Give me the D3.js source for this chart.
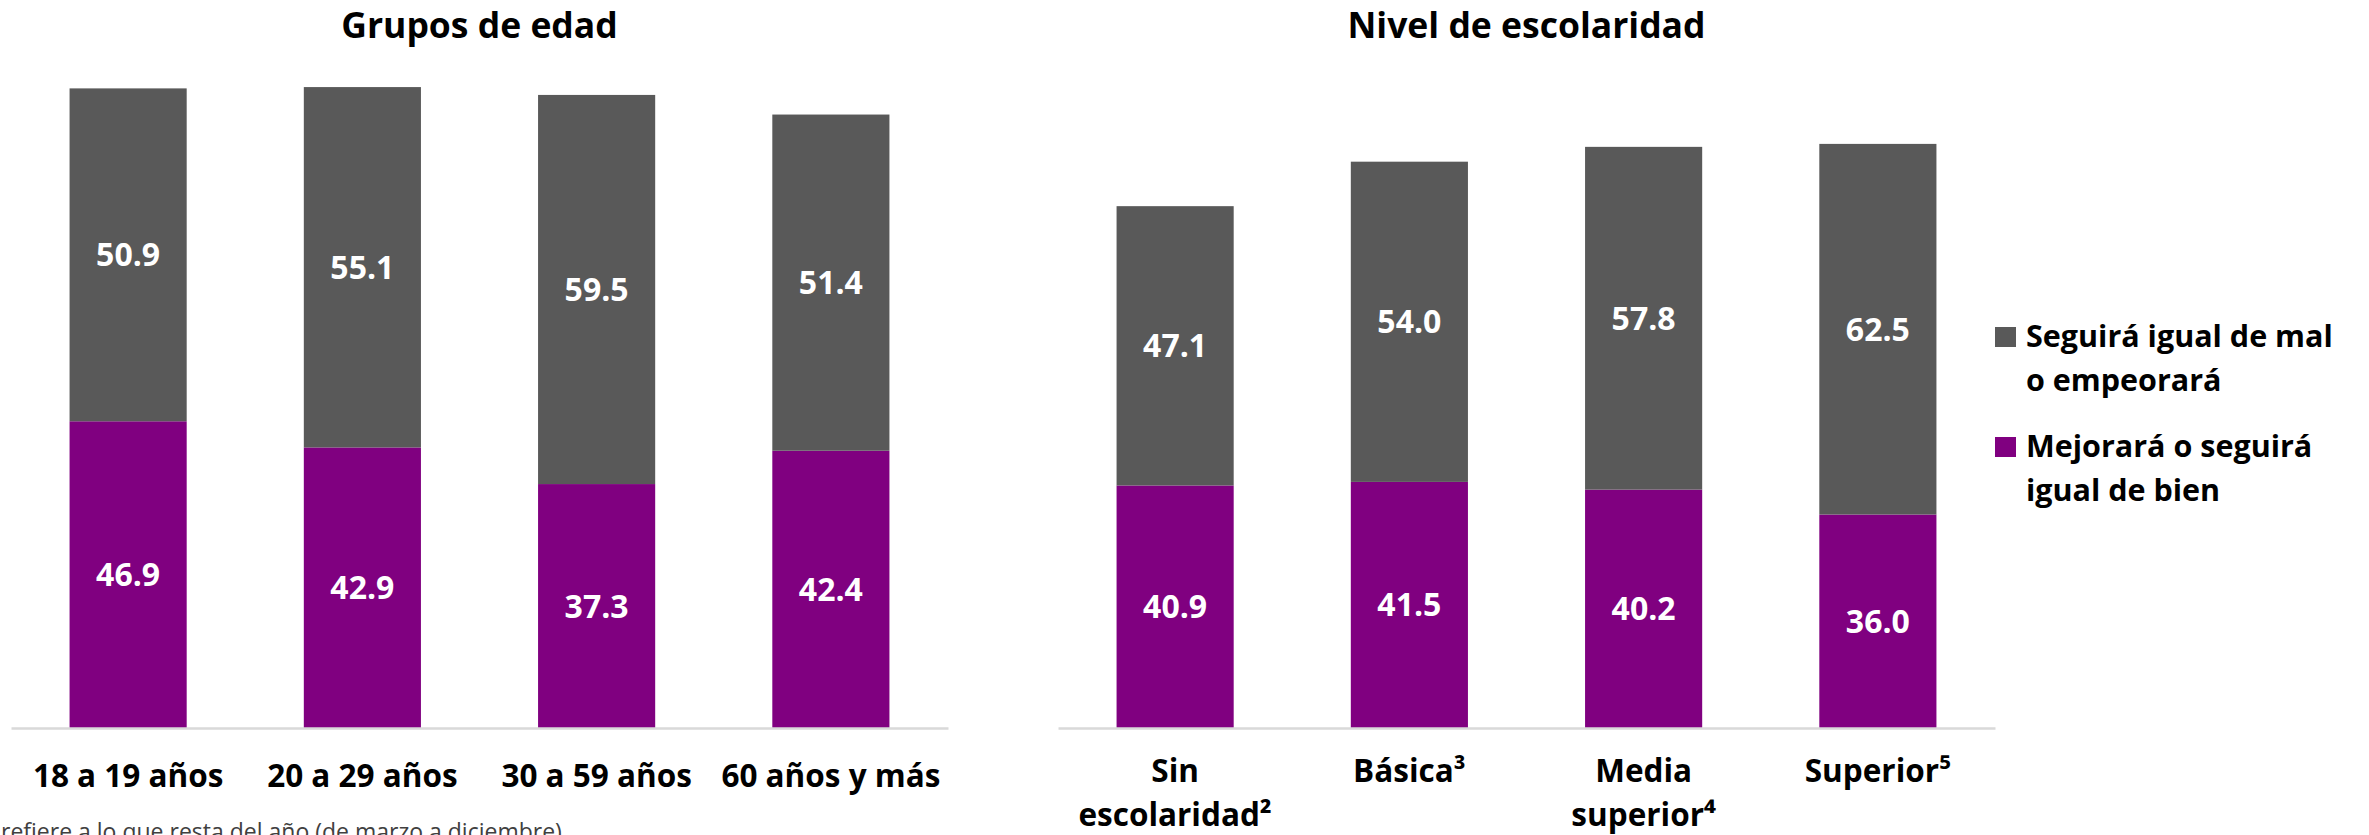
<!DOCTYPE html>
<html>
<head>
<meta charset="utf-8">
<script src="https://cdn.jsdelivr.net/npm/d3@7"></script>
<style>
  body { margin: 0; background: #fff; }
  svg { display: block; font-family: "Open Sans", sans-serif; }
</style>
</head>
<body>
<svg id="chart" width="2369" height="835"></svg>
<script>
// data
const gruposEdad = ["18 a 19 años", "20 a 29 años", "30 a 59 años", "60 años y más"];
const edadMal = [50.9, 55.1, 59.5, 51.4];
const edadBien = [46.9, 42.9, 37.3, 42.4];

const nivelEsc = ["Sin escolaridad²", "Básica³", "Media superior⁴", "Superior⁵"];
const nivelEscLineas = [["Sin", "escolaridad²"], ["Básica³"], ["Media", "superior⁴"], ["Superior⁵"]];
const escMal = [47.1, 54.0, 57.8, 62.5];
const escBien = [40.9, 41.5, 40.2, 36.0];

const serieNombres = ["Seguirá igual de mal o empeorará", "Mejorará o seguirá igual de bien"];
const serieLineas = [["Seguirá igual de mal", "o empeorará"], ["Mejorará o seguirá", "igual de bien"]];
const colores = { mal: "#595959", bien: "#800080" };

const nota = "refiere a lo que resta del año (de marzo a diciembre)";

const svg = d3.select("#chart");
const baseY = 728;

function panel(opts) {
    const rows = opts.cats.map((c, i) => ({ cat: c, bien: opts.bien[i], mal: opts.mal[i] }));
    const stack = d3.stack().keys(["bien", "mal"])(rows);

    const x = d3.scaleBand()
        .domain(opts.cats)
        .range([opts.x0, opts.x1])
        .paddingInner(0.5)
        .paddingOuter(0.25);
    const y = d3.scaleLinear().domain([0, 100]).range([baseY, opts.yTop]);

    const g = svg.append("g");

    // title
    g.append("text")
        .attr("x", (opts.x0 + opts.x1) / 2)
        .attr("y", 38)
        .attr("text-anchor", "middle")
        .style("font-size", "35.5px")
        .style("font-weight", 700)
        .attr("fill", "#000")
        .text(opts.title);

    const layer = g.selectAll(".serie").data(stack).join("g")
        .attr("class", "serie")
        .attr("fill", d => colores[d.key]);

    layer.selectAll("rect").data(d => d).join("rect")
        .attr("x", d => x(d.data.cat))
        .attr("y", d => y(d[1]))
        .attr("width", x.bandwidth())
        .attr("height", d => y(d[0]) - y(d[1]));

    // value labels
    layer.selectAll("text").data(d => d.map(v => ({ v: v, key: d.key }))).join("text")
        .attr("x", d => x(d.v.data.cat) + x.bandwidth() / 2)
        .attr("y", d => (y(d.v[0]) + y(d.v[1])) / 2)
        .attr("dy", "0.36em")
        .attr("text-anchor", "middle")
        .attr("fill", "#fff")
        .style("font-size", "32px")
        .style("font-weight", 700)
        .text(d => d.v.data[d.key].toFixed(1));

    // axis
    const axis = g.append("g")
        .attr("transform", `translate(0,${baseY})`)
        .call(d3.axisBottom(x).tickSize(0).tickSizeOuter(0));
    axis.select(".domain").attr("stroke", "#d9d9d9").attr("stroke-width", 2.5);
    axis.selectAll(".tick text").each(function (d, i) {
        const t = d3.select(this)
            .attr("y", null).attr("dy", null)
            .attr("fill", "#000")
            .style("font-size", "31.5px")
            .style("font-weight", 700)
            .style("font-family", "'Open Sans', sans-serif")
            .text(null);
        opts.lineas[i].forEach((ln, j) => {
            t.append("tspan")
                .attr("x", 0)
                .attr("y", opts.labelY + j * 44)
                .text(ln);
        });
    });
}

panel({
    title: "Grupos de edad", cats: gruposEdad, lineas: gruposEdad.map(d => [d]),
    bien: edadBien, mal: edadMal, x0: 11, x1: 948, yTop: 74, labelY: 59
});
panel({
    title: "Nivel de escolaridad", cats: nivelEsc, lineas: nivelEscLineas,
    bien: escBien, mal: escMal, x0: 1058, x1: 1995, yTop: 135, labelY: 54
});

// legend
const leg = svg.append("g").attr("transform", "translate(1995,327)");
const legItems = leg.selectAll("g").data(["mal", "bien"]).join("g")
    .attr("transform", (d, i) => `translate(0,${i * 110})`);
legItems.append("rect")
    .attr("width", 21).attr("height", 20)
    .attr("fill", d => colores[d]);
legItems.append("text")
    .style("font-size", "30.5px")
    .style("font-weight", 700)
    .attr("fill", "#000")
    .each(function (d, i) {
        serieLineas[i].forEach((ln, j) => {
            d3.select(this).append("tspan")
                .attr("x", 31)
                .attr("y", 20 + j * 44)
                .text(ln);
        });
    });

// footnote (cut at the bottom edge, as in the source)
svg.append("text")
    .attr("x", 1)
    .attr("y", 840)
    .style("font-size", "23px")
    .attr("fill", "#404040")
    .text(nota);
</script>
</body>
</html>
